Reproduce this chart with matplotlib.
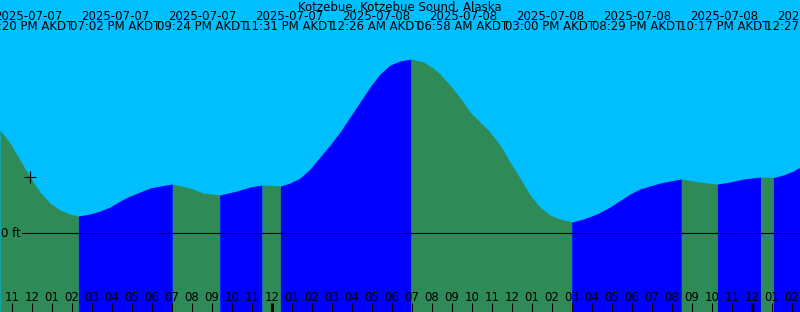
import numpy as np
import matplotlib
matplotlib.use('Agg')
from matplotlib import pyplot as plt
from matplotlib import transforms

station = 'Kotzebue, Kotzebue Sound, Alaska'

# hours counted from 2025-07-08 00:00 AKDT, level in feet
hours = [-13.585, -13.085, -12.585, -12.085, -11.585, -11.085, -10.585, -10.085, -9.667, -9.085,
         -8.585, -8.085, -7.585, -7.085, -6.585, -6.085, -5.585, -4.967, -4.085, -3.42,
         -2.6, -1.75, -1.085, -0.483, 0.433, 0.915, 1.415, 1.915, 2.415, 2.915,
         3.415, 3.915, 4.415, 4.915, 5.415, 5.915, 6.415, 6.967, 7.58, 8.08,
         8.415, 8.915, 9.415, 9.915, 10.415, 10.915, 11.415, 11.915, 12.415, 12.915,
         13.415, 13.915, 14.415, 15.0, 15.58, 16.25, 16.915, 17.415, 17.915, 18.415,
         18.915, 19.415, 19.915, 20.483, 21.08, 21.75, 22.283, 22.915, 23.58, 24.45,
         25.083, 25.58, 26.08, 26.415]
level_ft = [1.03, 0.90, 0.73, 0.56, 0.41, 0.30, 0.23, 0.19, 0.17, 0.19,
            0.22, 0.26, 0.32, 0.37, 0.41, 0.45, 0.47, 0.49, 0.45, 0.40,
            0.38, 0.42, 0.46, 0.48, 0.47, 0.50, 0.55, 0.64, 0.76, 0.88,
            1.01, 1.16, 1.31, 1.46, 1.59, 1.68, 1.72, 1.74, 1.71, 1.65,
            1.59, 1.48, 1.355, 1.21, 1.11, 1.01, 0.88, 0.71, 0.55, 0.38,
            0.26, 0.18, 0.14, 0.11, 0.14, 0.19, 0.26, 0.325, 0.39, 0.44,
            0.47, 0.50, 0.52, 0.54, 0.52, 0.50, 0.49, 0.51, 0.54, 0.56,
            0.555, 0.58, 0.62, 0.66]

# highs and lows
event_hours = [-9.667, -4.967, -2.6, -0.483, 0.433, 6.967, 15.0, 20.483, 22.283, 24.45, 25.083]
event_dates = ['2025-07-07', '2025-07-07', '2025-07-07', '2025-07-07', '2025-07-08', '2025-07-08',
               '2025-07-08', '2025-07-08', '2025-07-08', '2025-07-09', '2025-07-09']
event_times = ['02:20 PM', '07:02 PM', '09:24 PM', '11:31 PM', '12:26 AM', '06:58 AM',
               '03:00 PM', '08:29 PM', '10:17 PM', '12:27 AM', '01:05 AM']

now_hour = -12.085
now_level = 0.56
tick_hours = list(range(-13, 27))

W, H = 800, 312
FS = 8.5
sky = '#00BFFF'
falling = '#2E8B57'
rising = '#0000FF'

h = np.array(hours)
lv = np.array(level_ft)
x0, x1 = h[0], h[-1]

fig = plt.figure(figsize=(W / 100, H / 100), dpi=100)
fig.patch.set_facecolor(sky)
ax = fig.add_axes([0, 0, 1, 1])
ax.set_axis_off()
ax.set_xlim(x0, x1)
ax.set_ylim(-0.79, 2.33)

# water, coloured by rising / falling between each high and low
bounds = [x0] + event_hours + [x1]
for a, b in zip(bounds[:-1], bounds[1:]):
    m = (h >= a - 1e-9) & (h <= b + 1e-9)
    seg_h, seg_l = h[m], lv[m]
    col = rising if seg_l[-1] > seg_l[0] else falling
    ax.fill_between(seg_h, -1, seg_l, color=col, linewidth=0, zorder=1)

# zero line
ax.axhline(0, xmin=22 / W, xmax=1, color='black', lw=0.8, zorder=3)
fig.text(1 / W, 1 - 237 / H, '0 ft', fontsize=FS, ha='left', va='baseline')

# current time marker
ax.plot([now_hour], [now_level], marker='+', color='black', ms=8, mew=0.8, zorder=4)

# hour ticks along the bottom
trans = transforms.blended_transform_factory(ax.transData, ax.transAxes)
for t in tick_hours:
    hod = t % 24
    lab = '%02d' % (hod % 12 if hod % 12 else 12)
    lw = 2.2 if hod == 0 else 0.75
    ax.plot([t, t], [0, 1 - 303 / H], color='black', lw=lw, transform=trans, zorder=4,
            solid_capstyle='butt')
    ax.text(t, 1 - 301 / H, lab, transform=trans, ha='center', va='baseline', fontsize=FS, zorder=5)

# title and high/low labels
fig.text(0.5, 1 - 10.5 / H, station, ha='center', va='baseline', fontsize=FS)
for i, (d, tm) in enumerate(zip(event_dates, event_times)):
    cx = (28 + 87 * i) / W
    fig.text(cx, 1 - 20.5 / H, d, ha='center', va='baseline', fontsize=FS)
    fig.text(cx, 1 - 30 / H, tm + ' AKDT', ha='center', va='baseline', fontsize=FS)

plt.savefig('out.png', dpi=100, facecolor=sky)
